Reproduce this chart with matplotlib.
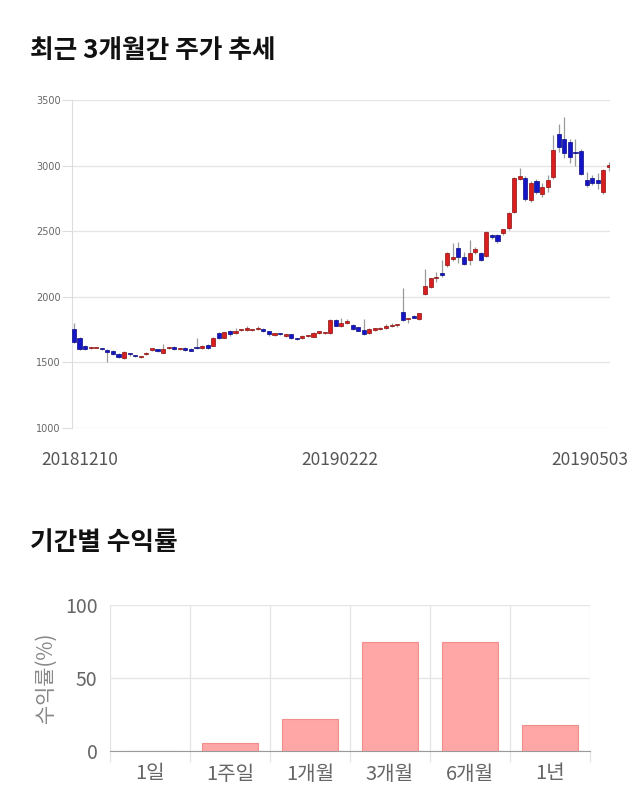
import matplotlib
matplotlib.use("Agg")
import matplotlib.pyplot as plt
import numpy as np

plt.rcParams['font.family'] = ['Noto Sans CJK KR', 'DejaVu Sans']

# ---------------- data ----------------
title1 = "최근 3개월간 주가 추세"
title2 = "기간별 수익률"
date_labels = ["20181210", "20190222", "20190503"]

opens = [1755, 1684, 1625, 1610, 1612, 1604, 1595, 1590, 1564, 1531,
         1565, 1552, 1538, 1564, 1598, 1592, 1575, 1610, 1615, 1603,
         1612, 1600, 1610, 1612, 1633, 1627, 1722, 1688, 1739, 1722,
         1745, 1750, 1748, 1753, 1755, 1737, 1712, 1716, 1701, 1714,
         1678, 1684, 1699, 1697, 1727, 1723, 1722, 1823, 1780, 1804,
         1785, 1767, 1747, 1722, 1750, 1755, 1765, 1775, 1783, 1886,
         1832, 1854, 1831, 2021, 2077, 2145, 2184, 2240, 2286, 2370,
         2306, 2280, 2341, 2336, 2311, 2471, 2468, 2484, 2522, 2649,
         2898, 2903, 2738, 2883, 2781, 2840, 2915, 3241, 3203, 3177,
         3095, 3114, 2890, 2903, 2890, 2801, 2987]
highs = [1800, 1690, 1630, 1618, 1620, 1610, 1600, 1595, 1570, 1590,
         1575, 1560, 1548, 1580, 1605, 1600, 1640, 1620, 1622, 1612,
         1618, 1608, 1684, 1630, 1640, 1692, 1728, 1735, 1745, 1760,
         1755, 1775, 1758, 1775, 1762, 1742, 1722, 1722, 1720, 1718,
         1685, 1708, 1710, 1735, 1738, 1732, 1830, 1830, 1835, 1828,
         1790, 1772, 1828, 1760, 1762, 1770, 1790, 1800, 1795, 2065,
         1842, 1860, 1880, 2210, 2146, 2190, 2280, 2340, 2413, 2420,
         2340, 2433, 2380, 2345, 2500, 2480, 2480, 2520, 2650, 2910,
         2980, 2920, 2880, 2900, 2870, 2925, 3230, 3317, 3373, 3200,
         3200, 3130, 2950, 2930, 2940, 2975, 3030]
lows = [1650, 1598, 1598, 1605, 1606, 1595, 1503, 1560, 1535, 1525,
        1550, 1540, 1532, 1560, 1590, 1582, 1570, 1600, 1595, 1598,
        1590, 1585, 1600, 1605, 1605, 1622, 1680, 1685, 1705, 1715,
        1738, 1742, 1740, 1745, 1730, 1705, 1705, 1708, 1695, 1682,
        1668, 1678, 1692, 1690, 1720, 1715, 1718, 1775, 1772, 1795,
        1750, 1738, 1710, 1718, 1742, 1748, 1758, 1768, 1772, 1815,
        1800, 1835, 1825, 2015, 2065, 2110, 2150, 2230, 2270, 2260,
        2245, 2240, 2330, 2270, 2300, 2440, 2410, 2470, 2510, 2640,
        2890, 2730, 2720, 2780, 2760, 2800, 2900, 3100, 3060, 3020,
        3000, 2930, 2840, 2850, 2820, 2780, 2960]
closes = [1655, 1602, 1602, 1612, 1612, 1600, 1582, 1564, 1539, 1582,
          1562, 1549, 1542, 1575, 1600, 1590, 1600, 1612, 1600, 1605,
          1595, 1590, 1607, 1625, 1612, 1688, 1684, 1729, 1714, 1739,
          1747, 1752, 1750, 1755, 1737, 1714, 1714, 1714, 1714, 1688,
          1676, 1701, 1701, 1727, 1729, 1725, 1823, 1780, 1798, 1806,
          1755, 1742, 1716, 1755, 1752, 1760, 1773, 1778, 1785, 1823,
          1836, 1841, 1874, 2085, 2141, 2148, 2166, 2336, 2303, 2306,
          2252, 2336, 2362, 2280, 2494, 2453, 2423, 2514, 2636, 2903,
          2923, 2743, 2870, 2796, 2840, 2890, 3119, 3144, 3098, 3063,
          3093, 2936, 2852, 2865, 2865, 2967, 3002]
price_ticks = [1000, 1500, 2000, 2500, 3000, 3500]

periods = ["1일", "1주일", "1개월", "3개월", "6개월", "1년"]
returns = [0, 5.2, 22, 74.5, 74.5, 18]
return_ticks = [0, 50, 100]

# ---------------- figure ----------------
W, H = 640, 810
fig = plt.figure(figsize=(W / 100, H / 100), dpi=100)

def box(l, t, r, b):
    return [l / W, 1 - b / H, (r - l) / W, (b - t) / H]

fig.text(30 / W, 1 - 50 / H, title1, fontsize=18.5, fontweight='bold',
         color='#111111', ha='left', va='center')
fig.text(30 / W, 1 - 543 / H, title2, fontsize=18.5, fontweight='bold',
         color='#111111', ha='left', va='center')

# ---- candlestick chart ----
ax = fig.add_axes(box(72, 100, 610, 428))
o = np.array(opens, float); c = np.array(closes, float)
hi = np.array(highs, float); lo = np.array(lows, float)
x = np.arange(len(o))
up = c >= o
ax.vlines(x, lo, hi, color='#9a9a9a', lw=0.9, zorder=2)
bottom = np.minimum(o, c)
height = np.maximum(np.abs(c - o), 9)
cols = np.where(up, '#d81e1e', '#1515c8')
edges = np.where(up, '#8a1010', '#0a0a80')
ax.bar(x, height, bottom=bottom, width=0.74, color=cols, edgecolor=edges,
       linewidth=0.5, zorder=3)
ax.set_xlim(-0.35, 96.2)
ax.set_ylim(price_ticks[0], price_ticks[-1])
ax.set_yticks(price_ticks)
ax.set_yticklabels([str(t) for t in price_ticks], fontsize=7, color='#666666',
                   family=['DejaVu Sans'])
ax.tick_params(axis='y', length=7, color='#dddddd', pad=1)
ax.set_xticks([])
ax.grid(axis='y', color='#e4e4e4', lw=0.9)
ax.set_axisbelow(True)
for s in ['top', 'right', 'bottom']:
    ax.spines[s].set_visible(False)
ax.spines['left'].set_color('#dddddd')

label_x = [80, 340, 590]
for lx, lab in zip(label_x, date_labels):
    fig.text(lx / W, 1 - 460 / H, lab, fontsize=12.5, color='#555555',
             ha='center', va='center')

# ---- returns bar chart ----
ax2 = fig.add_axes(box(110, 605, 590, 751))
ax2.bar(np.arange(len(periods)), returns, width=0.7, color='#ffa6a6',
        edgecolor='#f08e8e', linewidth=0.8, zorder=3)
ax2.set_xlim(-0.5, len(periods) - 0.5)
ax2.set_ylim(return_ticks[0], return_ticks[-1])
ax2.set_yticks(return_ticks)
ax2.set_yticklabels([str(t) for t in return_ticks], fontsize=14, color='#666666')
ax2.set_xticks(np.arange(len(periods)))
ax2.set_xticklabels(periods, fontsize=14.5, color='#666666')
ax2.set_xticks(np.arange(len(periods) + 1) - 0.5, minor=True)
ax2.tick_params(axis='x', which='major', length=0, pad=9)
ax2.tick_params(axis='x', which='minor', length=8, color='#e4e4e4', width=0.9)
ax2.tick_params(axis='y', length=0, pad=9)
ax2.grid(axis='y', color='#e4e4e4', lw=0.9)
ax2.grid(axis='x', which='minor', color='#e4e4e4', lw=0.9)
ax2.set_axisbelow(True)
for s in ['top', 'right', 'left']:
    ax2.spines[s].set_visible(False)
ax2.spines['bottom'].set_color('#9a9a9a')
ax2.set_ylabel("수익률(%)", fontsize=15, color='#888888', labelpad=6)

fig.savefig("out.png", dpi=100)
